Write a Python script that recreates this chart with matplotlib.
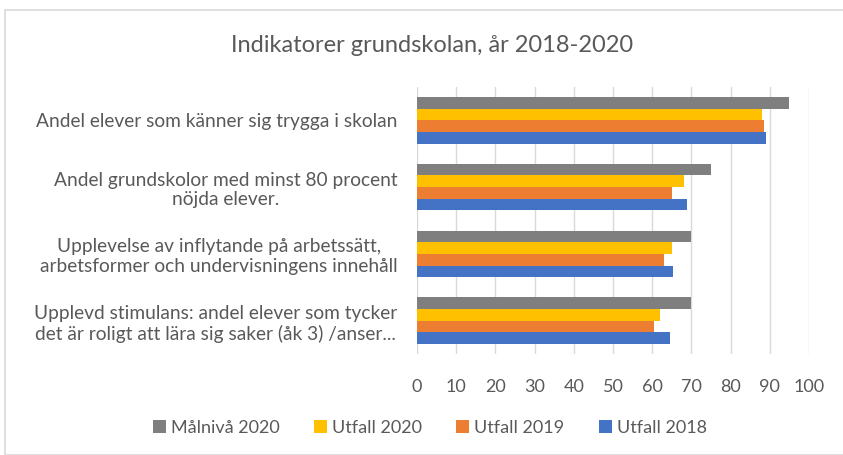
import numpy as np
import matplotlib.pyplot as plt
from matplotlib.patches import Rectangle

plt.rcParams['font.family'] = ['Lato', 'DejaVu Sans']

categories = [
    'Andel elever som känner sig trygga i skolan',
    'Andel grundskolor med minst 80 procent\nnöjda elever.',
    'Upplevelse av inflytande på arbetssätt,\narbetsformer och undervisningens innehåll',
    'Upplevd stimulans: andel elever som tycker\ndet är roligt att lära sig saker (åk 3) /anser...',
]
series_names = ['Målnivå 2020', 'Utfall 2020', 'Utfall 2019', 'Utfall 2018']
malniva_2020 = [95, 75, 70, 70]
utfall_2020 = [88, 68, 65, 62]
utfall_2019 = [88.5, 65, 63, 60.5]
utfall_2018 = [89, 69, 65.3, 64.5]
colors = ['#7F7F7F', '#FFC000', '#ED7D31', '#4472C4']
txt = '#595959'

fig = plt.figure(figsize=(8.43, 4.55), dpi=100)
ax = fig.add_axes([417 / 843, 1 - 354 / 455, 392 / 843, 267 / 455])

values = [malniva_2020, utfall_2020, utfall_2019, utfall_2018]
n = len(categories)
y = np.arange(n)
h = 0.175
for i, (vals, name, c) in enumerate(zip(values, series_names, colors)):
    ax.barh(y + (i - 1.5) * h, vals, height=h, color=c, label=name, zorder=3)

ax.set_ylim(n - 0.5, -0.5)
ax.set_xlim(0, 100)
ax.set_xticks(range(0, 101, 10))
ax.set_yticks(y)
ax.set_yticklabels(categories, multialignment='center')
ax.tick_params(axis='y', length=0, pad=14, labelsize=13.8, labelcolor=txt)
ax.tick_params(axis='x', length=0, pad=18, labelsize=13, labelcolor=txt)
ax.grid(axis='x', color='#D9D9D9', linewidth=1, zorder=0)
for s in ax.spines.values():
    s.set_visible(False)

fig.text(0.512, 1 - 45 / 455, 'Indikatorer grundskolan, år 2018-2020',
         ha='center', va='center', fontsize=17, color=txt)

fig.legend(loc='center', bbox_to_anchor=(0.51, 1 - 428 / 455), ncol=4,
           frameon=False, fontsize=13, labelcolor=txt, handlelength=0.7,
           handleheight=0.7, handletextpad=0.3, columnspacing=1.9)

fig.patches.append(Rectangle((5 / 843, 0), 1, 1 - 10 / 455, transform=fig.transFigure,
                             fill=False, edgecolor='#D9D9D9', linewidth=1.2))

fig.savefig('out.png', dpi=100)
